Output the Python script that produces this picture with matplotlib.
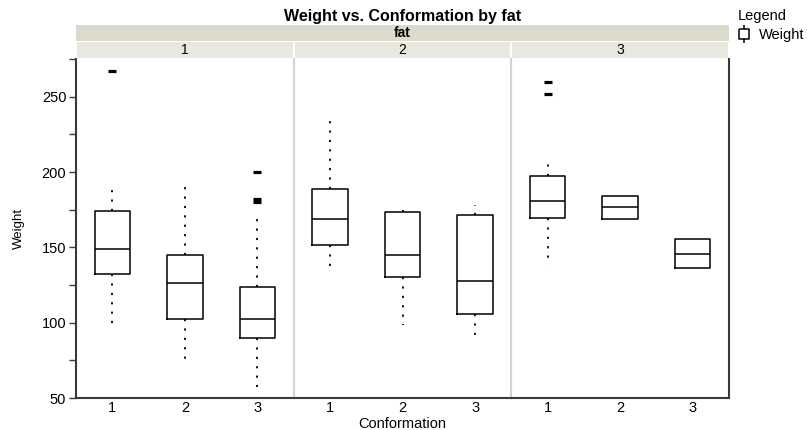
import matplotlib
matplotlib.use("Agg")
import matplotlib.pyplot as plt
from matplotlib.lines import Line2D
from matplotlib.path import Path

plt.rcParams['font.family'] = ['Liberation Sans', 'DejaVu Sans']

# data: one list per statistic, one entry per conformation
fat_levels = ["1", "2", "3"]
conformation = ["1", "2", "3"]

whis_lo = [[95, 76, 57.5], [135, 98.5, 89], [138, None, None]]
q1 = [[132, 102.7, 89.6], [151.8, 130.3, 105.8], [169.7, 168.9, 136.1]]
median = [[149, 126.2, 102.7], [168.9, 144.7, 127.7], [181, 176.6, 145.8]]
q3 = [[174.4, 144.7, 123.7], [188.8, 173.5, 171.5], [197.6, 184.1, 155.8]]
whis_hi = [[190.8, 191.3, 171], [235.7, 175, 178], [209.6, None, None]]
outliers = [[[267], [], [200, 182.3, 180.1]], [[], [], []], [[259.6, 252], [], []]]

W, H = 807, 430
fig = plt.figure(figsize=(W / 100, H / 100), dpi=100)

left, right, top, bottom = 76, 729, 59, 398
pw = (right - left) / 3

dark = "#3a3a3a"
sep = "#d4d4d4"

axes = []
for i in range(3):
    ax = fig.add_axes([(left + i * pw) / W, 1 - bottom / H, pw / W, (bottom - top) / H])
    stats = []
    for j in range(3):
        lo = whis_lo[i][j] if whis_lo[i][j] is not None else q1[i][j]
        hi = whis_hi[i][j] if whis_hi[i][j] is not None else q3[i][j]
        stats.append(dict(med=median[i][j], q1=q1[i][j], q3=q3[i][j],
                          whislo=lo, whishi=hi, fliers=outliers[i][j]))
    ax.bxp(stats, positions=[1, 2, 3], widths=0.49, showcaps=False,
           boxprops=dict(color="black", linewidth=1.1),
           medianprops=dict(color="black", linewidth=1.1),
           whiskerprops=dict(color="black", linewidth=1.3, linestyle=(0, (1.2, 4.0))),
           flierprops=dict(marker="_", markersize=6, markeredgewidth=2.3,
                           markeredgecolor="black", linestyle="none"))
    ax.set_xlim(0.5, 3.5)
    ax.set_ylim(50, 275)
    ax.set_xticks([1, 2, 3])
    ax.set_xticklabels(conformation, fontsize=10.5)
    ax.tick_params(axis="x", length=0, pad=2)
    for s in ax.spines.values():
        s.set_visible(False)
    ax.spines["bottom"].set_visible(True)
    ax.spines["bottom"].set_color(dark)
    ax.spines["bottom"].set_linewidth(1.5)
    if i == 0:
        ax.spines["left"].set_visible(True)
        ax.spines["left"].set_color(dark)
        ax.spines["left"].set_linewidth(1.5)
        ax.set_yticks([50, 100, 150, 200, 250])
        ax.set_yticks([75, 125, 175, 225, 275], minor=True)
        ax.tick_params(axis="y", which="both", length=5, width=1, color=dark,
                       labelsize=10.5, pad=2)
        ax.set_ylabel("Weight", fontsize=9.5, labelpad=12)
    else:
        ax.spines["left"].set_visible(True)
        ax.spines["left"].set_color(sep)
        ax.spines["left"].set_linewidth(1.6)
        ax.set_yticks([])
    if i == 2:
        ax.spines["right"].set_visible(True)
        ax.spines["right"].set_color(dark)
        ax.spines["right"].set_linewidth(1.5)
    axes.append(ax)

# strips
hdr = fig.add_axes([left / W, 1 - 41 / H, (right - left) / W, 16 / H])
hdr.set_facecolor("#dcdacb")
hdr.set_xticks([]); hdr.set_yticks([])
for s in hdr.spines.values():
    s.set_visible(False)
hdr.text(0.5, 0.5, "fat", ha="center", va="center", fontsize=10, fontweight="bold")

for i in range(3):
    st = fig.add_axes([(left + i * pw + 1) / W, 1 - 58 / H, (pw - 2) / W, 16 / H])
    st.set_facecolor("#e9e8de")
    st.set_xticks([]); st.set_yticks([])
    for s in st.spines.values():
        s.set_visible(False)
    st.text(0.5, 0.5, fat_levels[i], ha="center", va="center", fontsize=10)

fig.text((left + right) / 2 / W, 1 - 16 / H, "Weight vs. Conformation by fat",
         ha="center", va="center", fontsize=11.5, fontweight="bold")
fig.text((left + right) / 2 / W, 1 - 424 / H, "Conformation", ha="center",
         va="center", fontsize=10.5)

# legend with a box-plot glyph
glyph = Path([(0, 1), (0, 0.5), (-0.5, 0.5), (0.5, 0.5), (0.5, -0.5),
              (-0.5, -0.5), (-0.5, 0.5), (0, -0.5), (0, -1)],
             [Path.MOVETO, Path.LINETO, Path.MOVETO, Path.LINETO, Path.LINETO,
              Path.LINETO, Path.LINETO, Path.MOVETO, Path.LINETO])
handle = Line2D([], [], marker=glyph, markersize=13, markerfacecolor="none",
                markeredgecolor="black", markeredgewidth=1.1, linestyle="none")
leg = fig.legend([handle], ["Weight"], title="Legend", loc="upper left",
                 bbox_to_anchor=(736 / W, 1 - 8 / H), frameon=False,
                 fontsize=10.5, title_fontsize=10.5, handlelength=0.9,
                 handletextpad=0.6, borderaxespad=0, borderpad=0.1,
                 labelspacing=0.3)
leg._legend_box.align = "left"

fig.savefig("out.png", dpi=100)
